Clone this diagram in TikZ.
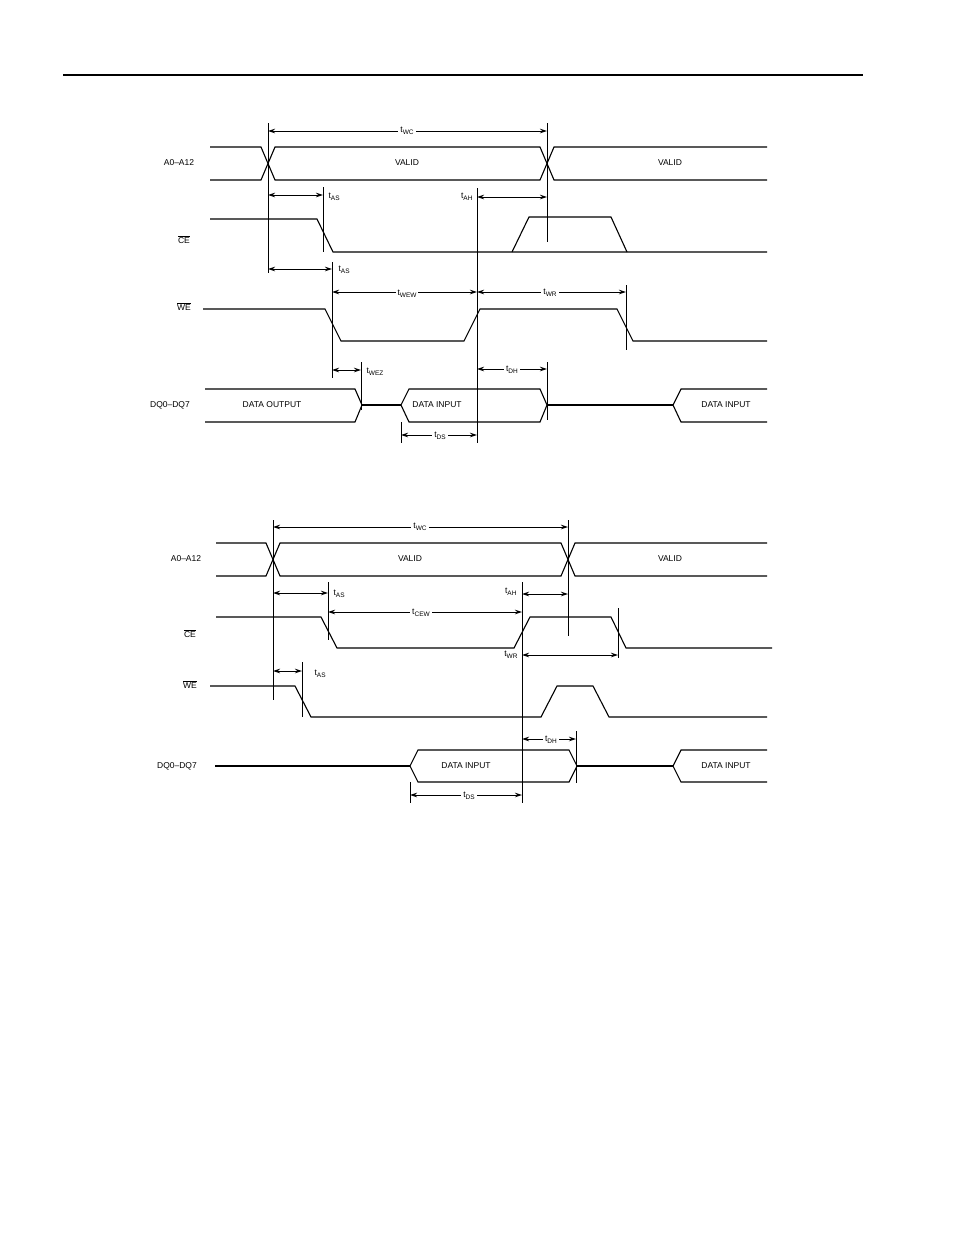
\documentclass[tikz,border=0pt]{standalone}
\usepackage{fontspec}
\setmainfont{Liberation Sans}
\usetikzlibrary{arrows.meta}
\newcommand{\tsub}[1]{t\raisebox{-2.2pt}{\fontsize{6.5}{7}\selectfont #1}}
\begin{document}
\begin{tikzpicture}[x=1pt,y=-1pt,line width=1.1pt,
  lbl/.style={font=\fontsize{8.5}{9}\selectfont,inner sep=1pt},
  tl/.style={font=\fontsize{8.5}{9}\selectfont,inner sep=2pt,fill=white},
  dim/.style={{Stealth[length=7pt,width=4.5pt]}-{Stealth[length=7pt,width=4.5pt]},line width=0.9pt},
  vl/.style={line width=0.9pt}]
\useasboundingbox (0,0) rectangle (954,1235);
\draw[line width=1.1pt] (63,75) -- (863,75);
% ===== Diagram 1 =====
\coordinate (v1a) at (268,123); \coordinate (v1b) at (268,273);
\coordinate (v2a) at (547,123); \coordinate (v2b) at (547,242);
\draw[vl] (v1a) -- (v1b); \draw[vl] (v2a) -- (v2b);
\draw[dim] (268,131) -- (547,131);
\node[tl] (twc1) at (407,131) {\tsub{WC}};
\node[lbl] (a1) at (179,163) {A0--A12};
\draw (210,147) -- (261,147) -- (275,180) -- (540,180) -- (554,147) -- (767,147);
\draw (210,180) -- (261,180) -- (275,147) -- (540,147) -- (554,180) -- (767,180);
\node[lbl] (val1) at (407,163) {VALID};
\node[lbl] (val2) at (670,163) {VALID};
\draw[dim] (268,195) -- (323,195);
\draw[vl] (323,187) -- (323,252);
\node[lbl,anchor=west] (tas1) at (327,197) {\tsub{AS}};
\node[lbl,anchor=east] (tah1) at (474,197) {\tsub{AH}};
\draw[vl] (477,188) -- (477,443);
\draw[dim] (477,197) -- (547,197);
\node[lbl] (ce1) at (184,240) {$\overline{\mbox{CE}}$};
\draw (210,219) -- (317,219) -- (333,252) -- (767,252);
\draw (512,252) -- (529,217) -- (611,217) -- (627,252);
\draw[dim] (268,269) -- (332,269);
\node[lbl,anchor=west] (tas2) at (337,270) {\tsub{AS}};
\draw[vl] (332,262) -- (332,378);
\draw[dim] (332,292) -- (477,292);
\node[tl] (twew) at (407,294) {\tsub{WEW}};
\draw[dim] (477,292) -- (626,292);
\node[tl] (twr1) at (550,293) {\tsub{WR}};
\draw[vl] (626,285) -- (626,350);
\node[lbl] (we1) at (184,307) {$\overline{\mbox{WE}}$};
\draw (203,309) -- (325,309) -- (341,341) -- (464,341) -- (480,309) -- (617,309) -- (633,341) -- (767,341);
\draw[dim] (332,370) -- (361,370);
\draw[vl] (361,362) -- (361,410);
\node[lbl,anchor=west] (twez) at (365,372) {\tsub{WEZ}};
\draw[dim] (477,369) -- (547,369);
\node[tl] (tdh1) at (512,370) {\tsub{DH}};
\draw[vl] (547,362) -- (547,420);
\node[lbl] (dq1) at (170,405) {DQ0--DQ7};
\draw (205,389) -- (355,389) -- (362,405) -- (355,422) -- (205,422);
\draw (362,405) -- (401,405);
\draw (401,405) -- (409,389) -- (540,389) -- (547,405) -- (540,422) -- (409,422) -- cycle;
\draw (547,405) -- (673,405);
\draw (767,389) -- (681,389) -- (673,405) -- (681,422) -- (767,422);
\node[lbl] (do1) at (272,405) {DATA OUTPUT};
\node[lbl] (di1) at (437,405) {DATA INPUT};
\node[lbl] (di2) at (726,405) {DATA INPUT};
\draw[dim] (401,435) -- (477,435);
\draw[vl] (401,422) -- (401,443);
\node[tl] (tds1) at (440,436) {\tsub{DS}};
% ===== Diagram 2 =====
\draw[vl] (273,520) -- (273,700); \draw[vl] (568,520) -- (568,636);
\draw[dim] (273,527) -- (568,527);
\node[tl] (twc2) at (420,527) {\tsub{WC}};
\node[lbl] (a2) at (186,559) {A0--A12};
\draw (216,543) -- (266,543) -- (280,576) -- (561,576) -- (575,543) -- (767,543);
\draw (216,576) -- (266,576) -- (280,543) -- (561,543) -- (575,576) -- (767,576);
\node[lbl] (val3) at (410,559) {VALID};
\node[lbl] (val4) at (670,559) {VALID};
\draw[dim] (273,593) -- (328,593);
\draw[vl] (328,582) -- (328,640);
\node[lbl,anchor=west] (tas3) at (332,594) {\tsub{AS}};
\node[lbl,anchor=east] (tah2) at (518,592) {\tsub{AH}};
\draw[vl] (522,582) -- (522,803);
\draw[dim] (522,594) -- (568,594);
\draw[dim] (328,612) -- (522,612);
\node[tl] (tcew) at (421,613) {\tsub{CEW}};
\node[lbl] (ce2) at (190,634) {$\overline{\mbox{CE}}$};
\draw (216,617) -- (321,617) -- (337,648) -- (514,648) -- (530,617) -- (611,617) -- (626,648) -- (772,648);
\draw[vl] (618,608) -- (618,658);
\node[lbl,anchor=east] (twr2) at (519,655) {\tsub{WR}};
\draw[dim] (522,655) -- (618,655);
\draw[dim] (273,671) -- (302,671);
\draw[vl] (302,662) -- (302,717);
\node[lbl,anchor=west] (tas4) at (313,674) {\tsub{AS}};
\node[lbl] (we2) at (190,685) {$\overline{\mbox{WE}}$};
\draw (210,686) -- (295,686) -- (311,717) -- (541,717) -- (557,686) -- (593,686) -- (609,717) -- (767,717);
\draw[dim] (522,739) -- (576,739);
\node[tl] (tdh2) at (551,740) {\tsub{DH}};
\draw[vl] (576,731) -- (576,783);
\node[lbl] (dq2) at (177,766) {DQ0--DQ7};
\draw (215,766) -- (410,766);
\draw (410,766) -- (418,750) -- (569,750) -- (577,766) -- (569,782) -- (418,782) -- cycle;
\draw (577,766) -- (673,766);
\draw (767,750) -- (681,750) -- (673,766) -- (681,782) -- (767,782);
\node[lbl] (di3) at (466,766) {DATA INPUT};
\node[lbl] (di4) at (726,766) {DATA INPUT};
\draw[dim] (410,795) -- (522,795);
\draw[vl] (410,782) -- (410,803);
\node[tl] (tds2) at (469,796) {\tsub{DS}};
\end{tikzpicture}
\end{document}
